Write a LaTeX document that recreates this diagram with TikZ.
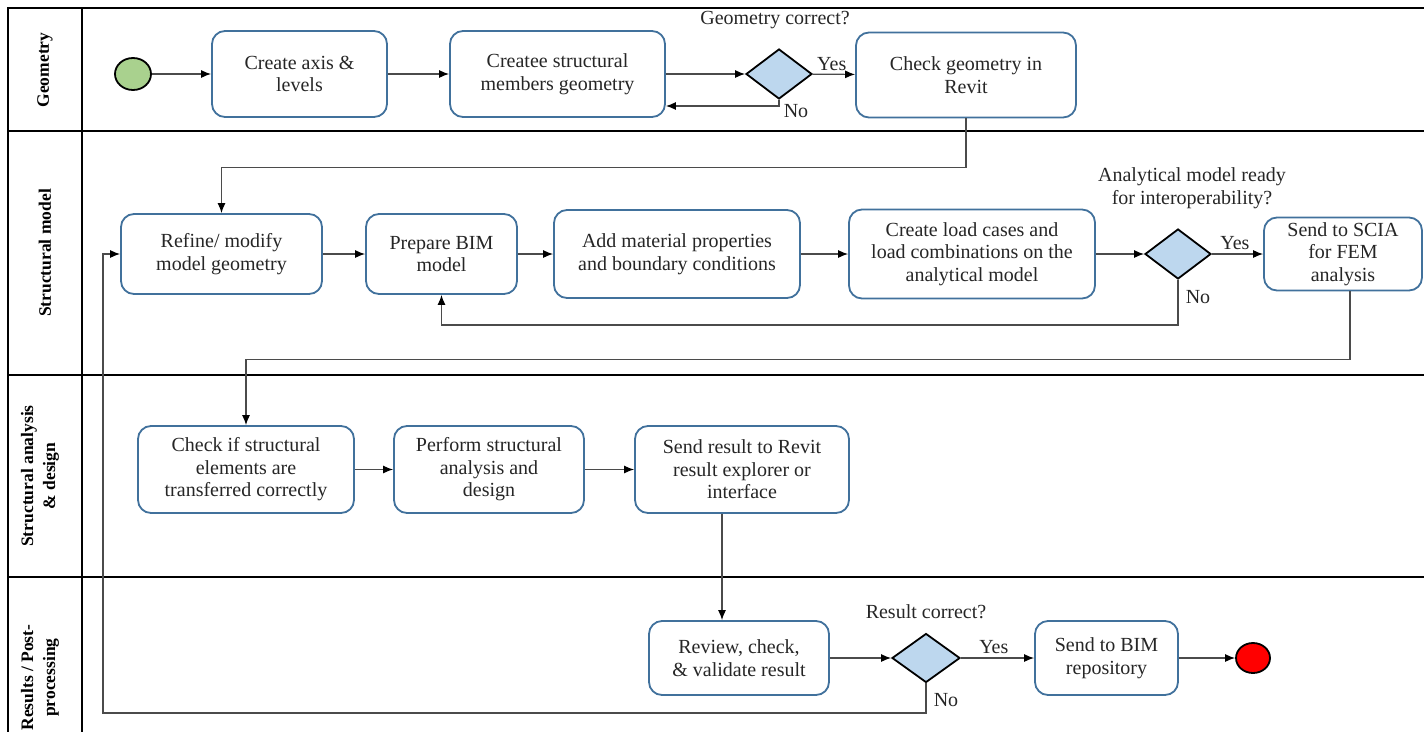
\documentclass[tikz,border=0pt]{standalone}
\usepackage{fontspec}
\setmainfont{Liberation Serif}
\usetikzlibrary{shapes.geometric,arrows.meta,calc}
\definecolor{boxblue}{RGB}{65,113,156}
\definecolor{decfill}{RGB}{189,215,238}
\definecolor{startgreen}{RGB}{169,209,142}
\definecolor{txt}{RGB}{38,38,38}
\definecolor{conn}{RGB}{75,75,75}
\begin{document}
\begin{tikzpicture}[x=1pt,y=-1pt,
  every node/.style={text=txt, font=\fontsize{20}{22.5}\selectfont},
  task/.style={draw=boxblue, line width=1.8pt, rounded corners=13pt, fill=white,
               align=center, inner sep=2pt},
  gate/.style={diamond, draw=black, line width=1.8pt, fill=decfill,
               minimum width=66pt, minimum height=50pt, inner sep=0pt},
  event/.style={ellipse, draw=black, line width=1.8pt, inner sep=0pt},
  lane/.style={rotate=90, align=center, text=black,
               font=\bfseries\fontsize{17.5}{22}\selectfont},
  question/.style={align=center},
  arr/.style={draw=conn, line width=1.2pt, -{Latex[length=10pt,width=8pt,color=black]}},
  frame/.style={draw=black, line width=2.2pt}
]
\useasboundingbox (0,0) rectangle (1424,731);
\clip (0,0) rectangle (1424,731);

% pool frame and lane dividers
\draw[frame] (8,740) -- (8,8) -- (1430,8);
\draw[frame] (82,8) -- (82,740);
\draw[frame] (8,131) -- (1430,131);
\draw[frame] (8,375) -- (1430,375);
\draw[frame] (8,577) -- (1430,577);

% lane titles
\node[lane] (L1) at (45,70) {Geometry};
\node[lane] (L2) at (45,253) {Structural model};
\node[lane] (L3) at (40,476) {Structural analysis\\\& design};
\node[lane, anchor=east] (L4) at (40,621) {Results / Post-\\processing};

% Geometry lane
\node[event, fill=startgreen, minimum width=36pt, minimum height=32pt] (start) at (133,74) {};
\node[task, minimum width=175pt, minimum height=86pt] (a1) at (299.5,74) {Create axis \&\\levels};
\node[task, minimum width=215pt, minimum height=86pt] (a2) at (557.5,74) {Createe structural\\members geometry};
\node[gate] (d1) at (779,74) {};
\node[task, minimum width=220pt, minimum height=85pt] (a3) at (966,75) {Check geometry in\\Revit};
\node[question] (q1) at (775,20) {Geometry correct?};

% Structural model lane
\node[task, minimum width=201pt, minimum height=80pt] (b1) at (221.5,254) {Refine/ modify\\model geometry};
\node[task, minimum width=151pt, minimum height=80pt] (b2) at (441.5,254) {Prepare BIM\\model};
\node[task, minimum width=246pt, minimum height=88pt] (b3) at (677,254) {Add material properties\\and boundary conditions};
\node[task, minimum width=246pt, minimum height=89pt] (b4) at (972,254) {Create load cases and\\load combinations on the\\analytical model};
\node[gate] (d2) at (1178,254) {};
\node[task, minimum width=158pt, minimum height=73pt] (b5) at (1343,254) {Send to SCIA\\for FEM\\analysis};
\node[question] (q2) at (1192,188) {Analytical model ready\\for interoperability?};

% Structural analysis & design lane
\node[task, minimum width=216pt, minimum height=87pt] (c1) at (246,469.5) {Check if structural\\elements are\\transferred correctly};
\node[task, minimum width=190pt, minimum height=87pt] (c2) at (489,469.5) {Perform structural\\analysis and\\design};
\node[task, minimum width=214pt, minimum height=87pt] (c3) at (742,469.5) {Send result to Revit\\result explorer or\\interface};

% Results / post-processing lane
\node[task, minimum width=180pt, minimum height=74pt] (r1) at (739,658) {Review, check,\\\& validate result};
\node[gate, minimum width=68pt, minimum height=49pt] (d3) at (926,658) {};
\node[task, minimum width=143pt, minimum height=74pt] (r2) at (1106.5,658) {Send to BIM\\repository};
\node[event, fill=red, minimum width=34pt, minimum height=30pt] (finish) at (1253,658) {};
\node[question] (q3) at (926,612) {Result correct?};

\coordinate (loopL) at (103,713);

% flow
\draw[arr] (start) -- (a1);
\draw[arr] (a1) -- (a2);
\draw[arr] (a2) -- (d1);
\draw[arr] (d1) -- node[above, pos=0.45] (y1) {Yes} (a3);
\draw[arr] (d1.south) |- ([yshift=-32pt]a2.east);
\node (n1) at (796,111) {No};
\draw[arr] (a3.south) -- ++(0,49) -| (b1.north);

\draw[arr] (b1) -- (b2);
\draw[arr] (b2) -- (b3);
\draw[arr] (b3) -- (b4);
\draw[arr] (b4) -- (d2);
\draw[arr] (d2) -- node[above, pos=0.45] (y2) {Yes} (b5);
\draw[arr] (d2.south) -- ++(0,45) -| (b2.south);
\node (n2) at (1198,297) {No};
\draw[arr] ([xshift=7pt]b5.south) -- ++(0,68) -| (c1.north);

\draw[arr] (c1) -- (c2);
\draw[arr] (c2) -- (c3);
\draw[arr] ([xshift=-20pt]c3.south) -- ([xshift=-20pt]c3.south |- r1.north);

\draw[arr] (r1) -- (d3);
\draw[arr] (d3) -- node[above, pos=0.45] (y3) {Yes} (r2);
\draw[arr] (r2) -- (finish);
\draw[arr] (d3.south) |- (loopL) |- (b1.west);
\node (n3) at (946,700) {No};
\end{tikzpicture}
\end{document}
